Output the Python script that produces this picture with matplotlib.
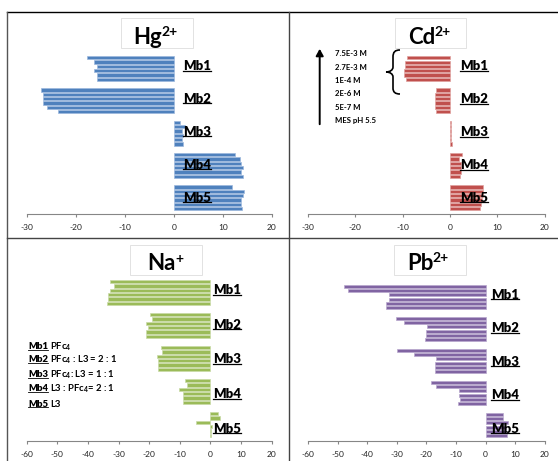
import matplotlib.pyplot as plt
from matplotlib.patches import Rectangle, FancyArrowPatch, PathPatch
from matplotlib.path import Path
from matplotlib.lines import Line2D
from matplotlib.transforms import blended_transform_factory

plt.rcParams['font.family'] = ['Lato', 'DejaVu Sans']
plt.rcParams['axes.unicode_minus'] = False
plt.rcParams['mathtext.fontset'] = 'custom'
plt.rcParams['mathtext.rm'] = 'Lato:bold'
plt.rcParams['mathtext.it'] = 'Lato:bold'
plt.rcParams['mathtext.bf'] = 'Lato:bold'

W, H = 558, 461

groups = ['Mb1', 'Mb2', 'Mb3', 'Mb4', 'Mb5']
conc = ['7.5E-3 M', '2.7E-3 M', '1E-4 M', '2E-6 M', '5E-7 M', 'MES pH 5.5']

# one row per membrane, one value per concentration (top bar = 7.5E-3 M)
hg = [[-17.8, -16.3, -15.7, -16.3, -15.8, -15.7],
      [-27.1, -26.8, -26.8, -26.7, -25.9, -23.7],
      [1.2, 2.2, 1.6, 1.8, 1.7, 1.8],
      [12.4, 13.5, 13.7, 14.0, 13.7, 14.0],
      [11.8, 14.2, 14.0, 13.7, 13.7, 13.8]]
cd = [[-9.0, -9.6, -9.5, -9.7, -9.8, -9.3],
      [-3.0, -3.1, -3.1, -3.2, -3.1, -3.0],
      [0.3, 0.2, 0.2, 0.3, 0.3, 0.5],
      [2.5, 2.0, 2.4, 2.3, 2.3, 2.2],
      [7.0, 7.0, 6.9, 6.8, 6.5, 6.4]]
na = [[-32.8, -31.6, -32.8, -33.4, -33.4, -33.7],
      [-19.9, -19.2, -21.2, -20.5, -21.2, -21.2],
      [-16.3, -15.7, -17.6, -17.2, -17.2, -17.2],
      [-8.3, -7.6, -10.2, -8.9, -8.9, -8.9],
      [2.6, 3.0, -4.6, 0.4, 0.1, 0.1]]
pb = [[-48.0, -46.6, -32.7, -32.7, -33.6, -33.6],
      [-30.4, -27.5, -19.9, -20.2, -20.2, -20.6],
      [-29.8, -24.3, -16.8, -17.2, -17.2, -17.2],
      [-18.5, -16.9, -9.0, -9.0, -8.6, -9.2],
      [6.0, 6.0, 7.5, 6.9, 6.9, 7.1]]

legend_na = [('Mb1', 'PFc$_4$'),
             ('Mb2', 'PFc$_4$ : L3 = 2 : 1'),
             ('Mb3', 'PFc$_4$: L3 = 1 : 1'),
             ('Mb4', 'L3 : PFc$_4$= 2 : 1'),
             ('Mb5', 'L3')]

panels = [
    # data, colours, xlim, axes px (x0, x1, ytop, ybot), label x px, label step,
    # title, sup, title box px, title left px, title baseline px
    dict(data=hg, face='#4F81BD', edge='#9DB9DE', xlim=(-30, 20), px=(27, 272, 52.3, 214),
         labx=183, step=1.02, title='Hg', sup='2+', box=(121, 18, 193, 48), tx=133, ty=43.5),
    dict(data=cd, face='#C0504D', edge='#E0A19F', xlim=(-30, 20), px=(308, 544.7, 52.5, 214),
         labx=459.7, step=1.02, title='Cd', sup='2+', box=(394.7, 18, 466, 48), tx=408, ty=43.5),
    dict(data=na, face='#9BBB59', edge='#CADBA8', xlim=(-60, 20), px=(26.7, 271.7, 276, 441),
         labx=213, step=1.05, title='Na', sup='+', box=(130, 245, 202, 275), tx=147, ty=270),
    dict(data=pb, face='#8064A2', edge='#B9A8CE', xlim=(-60, 20), px=(308, 544.7, 281, 441),
         labx=491, step=1.05, title='Pb', sup='2+', box=(394, 245, 466, 275), tx=407, ty=270),
]

fig = plt.figure(figsize=(W / 100, H / 100), dpi=100)
fig.patch.set_facecolor('white')


def fx(x):
    return x / W


def fy(y):
    return 1 - y / H


underlined = []
titles = []
pitch = 0.134

for p in panels:
    x0, x1, yt, yb = p['px']
    ax = fig.add_axes([fx(x0), fy(yb), fx(x1 - x0), (yb - yt) / H])
    ax.set_facecolor('none')
    ys, vals = [], []
    for g, row in enumerate(p['data']):
        for j, v in enumerate(row):
            ys.append(g + (j - 2.5) * pitch)
            vals.append(v)
    ax.barh(ys, vals, height=pitch * 0.76, color=p['face'], edgecolor=p['edge'], linewidth=0.5)
    ax.set_xlim(*p['xlim'])
    ax.set_ylim(4.5, -0.5)
    ax.set_xticks(range(p['xlim'][0], p['xlim'][1] + 1, 10))
    ax.set_yticks([])
    for s in ['top', 'right', 'left']:
        ax.spines[s].set_visible(False)
    ax.spines['bottom'].set_color('#868686')
    ax.spines['bottom'].set_linewidth(0.8)
    ax.tick_params(axis='x', direction='out', length=2.5, width=0.8, color='#868686',
                   labelsize=6, labelcolor='#222222', pad=5)

    tr = blended_transform_factory(fig.transFigure, ax.transData)
    for g, name in enumerate(groups):
        t = ax.text(fx(p['labx']), g * p['step'] + 0.05, name, transform=tr, fontsize=9.5,
                    fontweight='heavy', va='baseline', ha='left', color='black')
        underlined.append((t, 9.5))

    # title box
    bx0, by0, bx1, by1 = p['box']
    fig.add_artist(Rectangle((fx(bx0), fy(by1)), fx(bx1 - bx0), (by1 - by0) / H,
                             transform=fig.transFigure, facecolor='white',
                             edgecolor='#DDDDDD', linewidth=0.6))
    tt = fig.text(fx(p['tx']), fy(p['ty']), p['title'], fontsize=16, fontweight='bold',
                  va='baseline', ha='left', zorder=3)
    titles.append((tt, p['sup']))

# Cd concentration legend with arrow and brace
fig.add_artist(FancyArrowPatch((fx(319.7), fy(127)), (fx(319.7), fy(46)),
                               transform=fig.transFigure, arrowstyle='-|>,head_length=4,head_width=2.2',
                               color='black', linewidth=1.4, mutation_scale=1))
conc_y = [53.3, 67.0, 80.5, 94.0, 107.5, 121.0]
for lab, y in zip(conc, conc_y):
    fig.text(fx(334.7), fy(y), lab, fontsize=5.6, fontweight='bold', va='center', ha='left')

brace_px = [(400, 50), (395, 50), (393, 52), (393, 57), (393, 67), (393, 70), (390, 72),
            (386, 72), (390, 72), (393, 74), (393, 77), (393, 88), (393, 92), (395, 94),
            (400, 94)]
codes = [Path.MOVETO, Path.CURVE4, Path.CURVE4, Path.CURVE4, Path.LINETO, Path.CURVE4,
         Path.CURVE4, Path.CURVE4, Path.CURVE4, Path.CURVE4, Path.CURVE4, Path.LINETO,
         Path.CURVE4, Path.CURVE4, Path.CURVE4]
brace = Path([(fx(x), fy(y)) for x, y in brace_px], codes)
fig.add_artist(PathPatch(brace, transform=fig.transFigure, facecolor='none',
                         edgecolor='black', linewidth=1.2))

# Na membrane composition legend
legend_y = [349, 362, 377, 391, 406.5]
leg_first = []
for (mb, rest), y in zip(legend_na, legend_y):
    t = fig.text(fx(28), fy(y), mb, fontsize=6.8, fontweight='heavy', va='baseline', ha='left')
    underlined.append((t, 6.8))
    leg_first.append((t, rest, y))

# panel frame lines
for xs, ys, c in [((7, 558), (12, 12), 'black'), ((7, 7), (12, 461), '#555555'),
                  ((289, 289), (12, 461), '#444444'), ((7, 558), (238.5, 238.5), '#444444')]:
    fig.add_artist(Line2D([fx(xs[0]), fx(xs[1])], [fy(ys[0]), fy(ys[1])],
                          transform=fig.transFigure, color=c, linewidth=1.0))

# second pass: place text pieces and underlines from rendered extents
fig.canvas.draw()
rend = fig.canvas.get_renderer()
for t, rest, y in leg_first:
    bb = t.get_window_extent(rend)
    fig.text((bb.x1 + 2.5) / W, fy(y), rest, fontsize=6.8, fontweight='bold',
             va='baseline', ha='left')
for tt, sup in titles:
    bb = tt.get_window_extent(rend)
    fig.text((bb.x1 - 0.5) / W, (bb.y1 + 0.5) / H, sup, fontsize=10, fontweight='bold',
             va='top', ha='left', zorder=3)
for t, fs in underlined:
    bb = t.get_window_extent(rend)
    fpx = fs * 100 / 72
    yu = bb.y0 + 0.12 * fpx
    fig.add_artist(Line2D([bb.x0 / W, bb.x1 / W], [yu / H, yu / H], transform=fig.transFigure,
                          color='black', linewidth=0.9 if fs > 7 else 0.6))

fig.savefig('out.png', dpi=100)
